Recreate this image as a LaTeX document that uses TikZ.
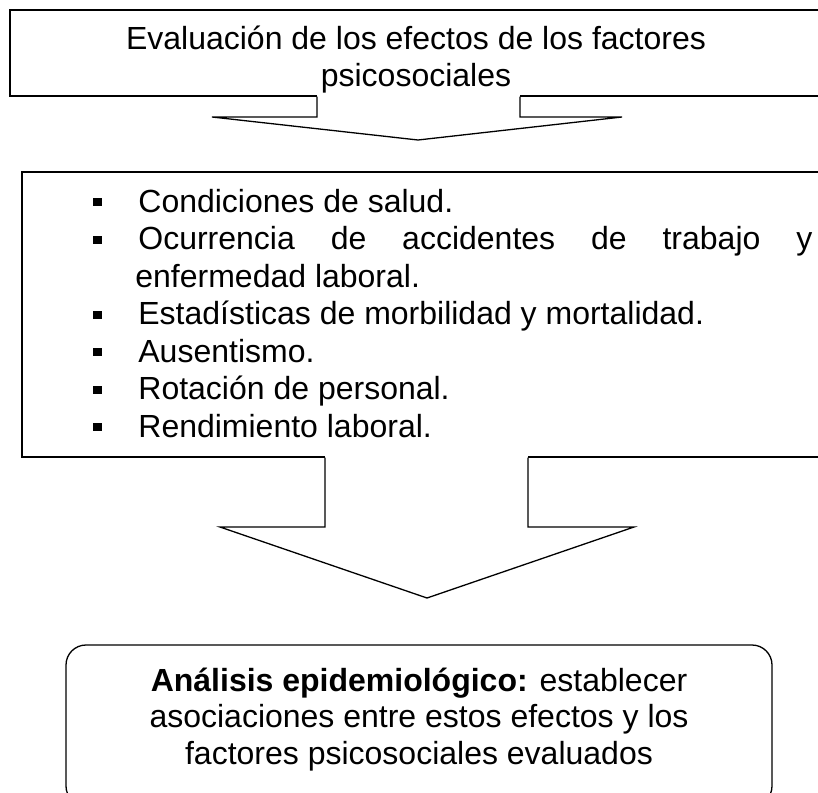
\documentclass[tikz,border=0pt]{standalone}
\usepackage{fontspec}
\setmainfont{Liberation Sans}
\newcommand{\sqbullet}{\makebox[22.5pt][l]{\raisebox{3pt}{\rule{4.5pt}{4pt}}}}

\begin{document}
\begin{tikzpicture}[x=0.5pt, y=-0.5pt,
    every node/.style={font=\fontsize{16}{18.5}\selectfont, inner sep=0pt},
    framebox/.style={draw, line width=0.65pt, rectangle},
    shaftline/.style={draw, line width=0.65pt, line join=miter}]
    \useasboundingbox (0,0) rectangle (818,792);
    \fill[white] (0,0) rectangle (818,792);
    \clip (0,0) rectangle (818,792);
    \node[framebox, minimum width=410pt, minimum height=43pt] (evalbox) at (420,53) {};
    \node[framebox, minimum width=409pt, minimum height=142.5pt] (efectbox) at (431,314.5) {};
    \node[framebox, rounded corners=10pt, minimum width=353pt, minimum height=80.5pt] (analbox) at (419,725.5) {};
    \fill[white] (317,92) rectangle (520,100);
    \draw[shaftline] (317,0 |- evalbox.south) -- (317,117) -- (212,117) -- (418,140) -- (622,117) -- (520,117) -- (520,0 |- evalbox.south);
    \fill[white] (325,453) rectangle (528,461);
    \draw[shaftline] (325,0 |- efectbox.south) -- (325,527) -- (220,527) -- (427,598) -- (634,527) -- (528,527) -- (528,0 |- efectbox.south);
    \node[anchor=base] (evaltext) at (416,50) {\parbox[t]{400pt}{\centering
        Evaluación de los efectos de los factores\\psicosociales}};
    \node[anchor=base west] (efecttext) at (93,212) {\parbox[t]{370pt}{\raggedright
        \fontsize{16}{18.75}\selectfont
        \sqbullet Condiciones de salud.\\
        \sqbullet\makebox[337pt][s]{Ocurrencia de accidentes de trabajo y}\\
        \hspace*{21pt}enfermedad laboral.\\
        \sqbullet Estadísticas de morbilidad y mortalidad.\\
        \sqbullet Ausentismo.\\
        \sqbullet Rotación de personal.\\
        \sqbullet Rendimiento laboral.}};
    \node[anchor=base] (analtext) at (419,691) {\parbox[t]{350pt}{\centering
        \fontsize{16}{18.25}\selectfont
        \textbf{Análisis epidemiológico:} establecer\\
        asociaciones entre estos efectos y los\\
        factores psicosociales evaluados}};
\end{tikzpicture}
\end{document}
